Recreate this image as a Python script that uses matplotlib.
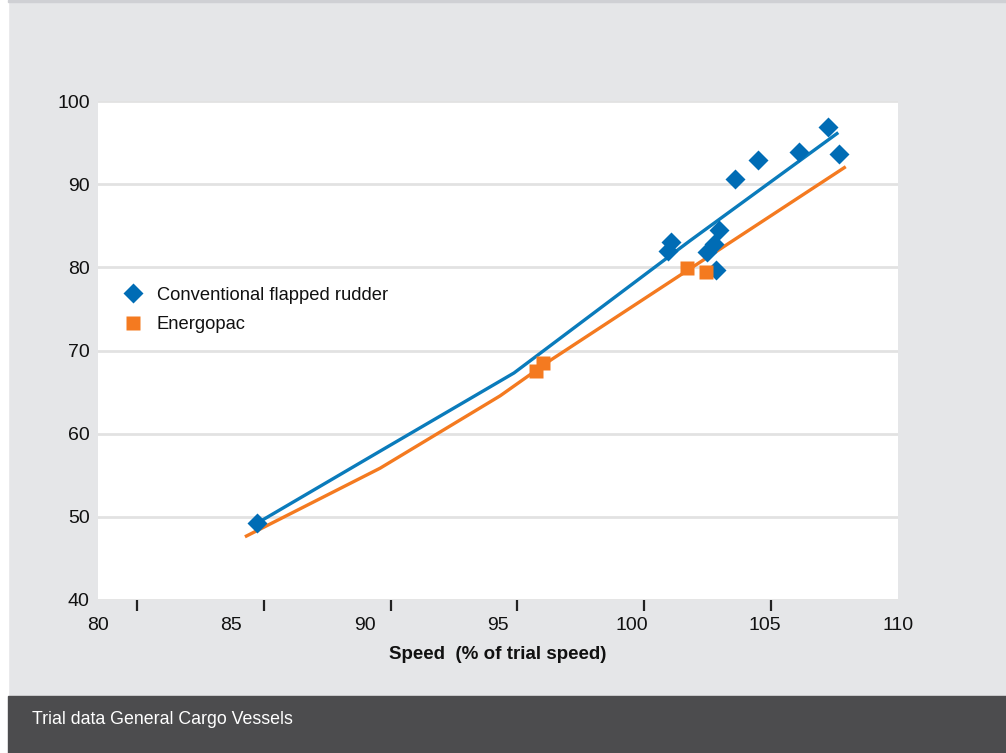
import matplotlib
matplotlib.use("Agg")
import matplotlib.pyplot as plt
from matplotlib.patches import Rectangle

# ---- data ----
conv_x = [85.95, 101.36, 101.5, 102.85, 103.1, 103.16, 103.3, 103.89, 104.74, 106.3, 107.39, 107.8]
conv_y = [49.2, 82.0, 83.05, 81.85, 82.85, 79.7, 84.5, 90.6, 92.9, 93.9, 96.9, 93.6]
energ_x = [96.41, 96.7, 102.1, 102.8]
energ_y = [67.55, 68.55, 79.9, 79.4]

conv_fit_x = [86.0, 90.58, 95.6, 102.2, 107.76]
conv_fit_y = [49.3, 57.9, 67.3, 83.2, 96.2]
energ_fit_x = [85.51, 90.58, 95.08, 97.0, 108.04]
energ_fit_y = [47.6, 55.85, 64.55, 68.9, 92.1]

x_ticks = [80, 85, 90, 95, 100, 105, 110]
x_tick_marks = [81.46, 86.22, 90.98, 95.73, 100.49, 105.24, 110.0]
y_ticks = [40, 50, 60, 70, 80, 90, 100]

series_labels = ["Conventional flapped rudder", "Energopac"]
x_label = "Speed  (% of trial speed)"
caption = "Trial data General Cargo Vessels"

plt.rcParams["font.family"] = ["Liberation Sans", "DejaVu Sans"]

BG = "#e5e6e8"
BLUE_M = "#006cb5"
BLUE_L = "#0a7bbb"
ORANGE = "#f47a20"
TXT = "#111111"

W, H = 1006, 753
fig = plt.figure(figsize=(W / 100, H / 100), dpi=100, facecolor=BG)

# left white strip, top line, bottom caption bar
fig.patches.append(Rectangle((0, 0), 8 / W, 1, transform=fig.transFigure, color="white", zorder=0))
fig.patches.append(Rectangle((8 / W, 1 - 1.5 / H), 1, 1.5 / H, transform=fig.transFigure, color="#cfd0d4", zorder=0))
fig.patches.append(Rectangle((8 / W, 0), 1, 57 / H, transform=fig.transFigure, color="#4c4c4e", zorder=0))
fig.text(32 / W, (H - 720) / H, caption, color="white", fontsize=12.8, va="center", ha="left")

ax = fig.add_axes([98 / W, (H - 600) / H, 800 / W, 499 / H])
ax.set_facecolor("white")
for s in ax.spines.values():
    s.set_visible(False)

ax.set_xlim(80, 110)
ax.set_ylim(40, 100)

ax.set_yticks(y_ticks)
ax.set_xticks(x_ticks)
ax.tick_params(axis="y", length=0, pad=6, labelsize=14, labelcolor=TXT)
ax.tick_params(axis="x", which="major", length=0, pad=12, labelsize=14, labelcolor=TXT)
ax.set_xticks(x_tick_marks, minor=True)
ax.tick_params(axis="x", which="minor", length=8, width=1.6, color="#222222", direction="out")
ax.yaxis.grid(True, color="#e2e2e2", linewidth=2)
ax.set_axisbelow(True)

ax.plot(conv_fit_x, conv_fit_y, color=BLUE_L, lw=2.4, zorder=2, solid_capstyle="butt")
ax.plot(energ_fit_x, energ_fit_y, color=ORANGE, lw=2.4, zorder=2, solid_capstyle="butt")
ax.plot(conv_x, conv_y, linestyle="none", marker="D", ms=10.5, color=BLUE_M, mec="none",
        zorder=3, label=series_labels[0])
ax.plot(energ_x, energ_y, linestyle="none", marker="s", ms=10, color=ORANGE, mec="none",
        zorder=3, label=series_labels[1])

ax.set_xlabel(x_label, fontsize=13.5, fontweight="bold", color=TXT, labelpad=9)

fs = 13.2
hl = 1.0
# marker centre at x=133 px, text starts at x=157 px
left_px = 133 - hl * fs * 100 / 72 / 2
htp = (157 - left_px - hl * fs * 100 / 72) / (fs * 100 / 72)
ax.legend(loc="center left", bbox_to_anchor=(left_px / W, (H - 310) / H),
          bbox_transform=fig.transFigure, frameon=False, fontsize=fs,
          handlelength=hl, handletextpad=htp, borderpad=0, borderaxespad=0,
          labelspacing=0.68, labelcolor=TXT)

fig.savefig("out.png", dpi=100, facecolor=BG)
